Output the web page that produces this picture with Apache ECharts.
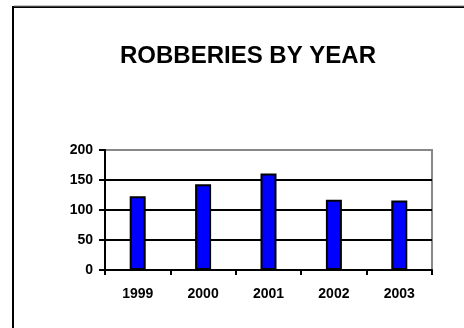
<!DOCTYPE html>
<html>
<head>
<meta charset="utf-8">
<script src="https://cdn.jsdelivr.net/npm/echarts@6/dist/echarts.min.js"></script>
<style>
html,body{margin:0;padding:0;background:#fff;}
#chart{width:464px;height:328px;}
</style>
</head>
<body>
<div id="chart"></div>
<script>
const title = 'ROBBERIES BY YEAR';
const years = ['1999', '2000', '2001', '2002', '2003'];
const robberies = [123, 143, 161, 117, 116];
const yTicks = [0, 50, 100, 150, 200];

const chart = echarts.init(document.getElementById('chart'), null, {renderer: 'canvas'});
const font = 'Arial, "Liberation Sans", sans-serif';
chart.setOption({
  animation: false,
  backgroundColor: '#fff',
  title: {
    text: title,
    left: 243, top: 39, textAlign: 'center',
    textStyle: {fontFamily: font, fontWeight: 'bold', fontSize: 24, color: '#000'}
  },
  graphic: [
    {type: 'line', shape: {x1: 13, y1: 6, x2: 13, y2: 328}, style: {stroke: '#000', lineWidth: 2}},
    {type: 'line', shape: {x1: 12, y1: 7, x2: 464, y2: 7}, style: {stroke: '#000', lineWidth: 2}},
    {type: 'line', shape: {x1: 14, y1: 6, x2: 464, y2: 6}, style: {stroke: '#888', lineWidth: 1}}
  ],
  grid: {
    left: 105, top: 150, right: 32, bottom: 58,
    show: true, borderColor: '#888', borderWidth: 2, backgroundColor: 'transparent'
  },
  xAxis: {
    type: 'category',
    data: years,
    axisLine: {lineStyle: {color: '#000', width: 2}},
    axisTick: {show: true, length: 5, inside: false, lineStyle: {color: '#000', width: 2}, alignWithLabel: false},
    axisLabel: {margin: 17, fontFamily: font, fontWeight: 'bold', fontSize: 14, color: '#000'},
    splitLine: {show: false}
  },
  yAxis: {
    type: 'value',
    min: yTicks[0], max: yTicks[yTicks.length - 1], interval: yTicks[1] - yTicks[0],
    axisLine: {show: true, lineStyle: {color: '#000', width: 2}},
    axisTick: {show: true, length: 6, lineStyle: {color: '#000', width: 2}},
    axisLabel: {margin: 12, fontFamily: font, fontWeight: 'bold', fontSize: 14, color: '#000'},
    splitLine: {show: true, lineStyle: {color: ['#000', '#000', '#000', '#000', '#888'], width: 2}}
  },
  series: [{
    type: 'bar',
    data: robberies,
    barWidth: 16,
    itemStyle: {color: '#0000ff', borderColor: '#000', borderWidth: 2},
    z: 3
  }]
});
</script>
</body>
</html>
